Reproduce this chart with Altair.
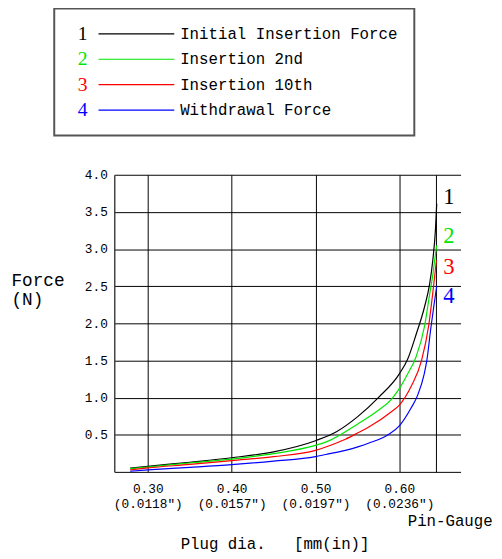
import altair as alt
import pandas as pd

# ---------------- data ----------------
series = ["Initial Insertion Force", "Insertion 2nd", "Insertion 10th", "Withdrawal Force"]
series_nums = ["1", "2", "3", "4"]
colors = ["#000000", "#00e600", "#ff0000", "#0000ff"]

black_mm = [0.279, 0.30, 0.35, 0.40, 0.45, 0.50, 0.525, 0.55, 0.575, 0.60, 0.61, 0.62, 0.63, 0.636, 0.640, 0.643, 0.6446]
black_n = [0.05, 0.075, 0.13, 0.19, 0.27, 0.42, 0.54, 0.74, 1.0, 1.32, 1.52, 1.85, 2.22, 2.52, 2.86, 3.25, 3.61]

green_mm = [0.279, 0.30, 0.35, 0.40, 0.45, 0.50, 0.5122, 0.5514, 0.575, 0.59, 0.60, 0.61, 0.62, 0.63, 0.636, 0.640, 0.6427, 0.6446]
green_n = [0.044, 0.066, 0.12, 0.172, 0.245, 0.357, 0.40, 0.653, 0.83, 0.97, 1.12, 1.32, 1.55, 1.96, 2.38, 2.66, 2.90, 3.05]

red_mm = [0.279, 0.30, 0.35, 0.40, 0.45, 0.50, 0.5122, 0.5357, 0.5514, 0.5631, 0.5905, 0.60, 0.614, 0.6265, 0.635, 0.640, 0.6443]
red_n = [0.026, 0.053, 0.10, 0.152, 0.205, 0.29, 0.335, 0.44, 0.53, 0.60, 0.81, 0.90, 1.15, 1.5, 1.97, 2.42, 2.85]

blue_mm = [0.279, 0.30, 0.35, 0.40, 0.45, 0.50, 0.5122, 0.5357, 0.5514, 0.5631, 0.5866, 0.60, 0.614, 0.6218, 0.6297, 0.6328, 0.6375, 0.641, 0.6446]
blue_n = [0.009, 0.026, 0.06, 0.097, 0.145, 0.205, 0.234, 0.29, 0.34, 0.385, 0.50, 0.62, 0.86, 1.03, 1.32, 1.5, 1.93, 2.22, 2.50]

label_force = [3.70, 3.17, 2.76, 2.36]   # where the 1..4 tags sit at the right
pin_gauge = 0.644

x_ticks = [0.30, 0.40, 0.50, 0.60]
x_tick_mm = ["0.30", "0.40", "0.50", "0.60"]
x_tick_in = ["(0.0118″)", "(0.0157″)", "(0.0197″)", "(0.0236″)"]
y_ticks = [0.5, 1.0, 1.5, 2.0, 2.5, 3.0, 3.5, 4.0]

x_title = "Plug dia.\u00a0\u00a0\u00a0[mm(in)]"
y_title = ["Force", "(N)"]
pin_text = "Pin-Gauge"

MONO = "Liberation Mono"
SERIF = "Liberation Serif"

# ---------------- tables ----------------
rows = []
for name, mm, nn in zip(series, [black_mm, green_mm, red_mm, blue_mm], [black_n, green_n, red_n, blue_n]):
    for a, b in zip(mm, nn):
        rows.append({"series": name, "mm": a, "force": b})
df = pd.DataFrame(rows)

df_lab = pd.DataFrame({"series": series, "num": series_nums, "force": label_force,
                       "mm": [pin_gauge] * len(series)})
df_pin = pd.DataFrame({"mm": [pin_gauge], "force": [0.0], "t": [pin_text]})
df_leg = pd.DataFrame({"series": series, "num": series_nums})
df_box = pd.DataFrame({"k": [0]})

expr = ""
for v, a, b in zip(x_ticks, x_tick_mm, x_tick_in):
    expr += f"abs(datum.value - {v}) < 0.001 ? ['{a}', '{b}'] : "
expr += "''"

color_scale = alt.Scale(domain=series, range=colors)

x_enc = alt.X("mm:Q",
              scale=alt.Scale(domain=[0.26, 0.673], nice=False, zero=False),
              axis=alt.Axis(values=x_ticks + [pin_gauge], labelExpr=expr, labelFont=MONO,
                            labelFontSize=13, labelLineHeight=15, labelPadding=11,
                            labelColor="#000", labelFlush=False, labelOverlap=False,
                            ticks=False, grid=True, gridColor="#000", gridWidth=1,
                            domainColor="#000", domainWidth=1,
                            title=x_title, titleFont=MONO, titleFontSize=16,
                            titleFontWeight="normal", titleColor="#000",
                            titleX=67, titleY=78, titleAlign="left",
                            titleBaseline="alphabetic"))
y_enc = alt.Y("force:Q",
              scale=alt.Scale(domain=[0, 4], nice=False),
              axis=alt.Axis(values=y_ticks, format=".1f", labelFont=MONO, labelFontSize=13,
                            labelColor="#000", labelPadding=7, ticks=False, grid=True,
                            gridColor="#000", gridWidth=1, domainColor="#444", domainWidth=1.5,
                            title=y_title, titleFont=MONO, titleFontSize=18,
                            titleFontWeight="normal", titleColor="#000", titleAngle=0,
                            titleAlign="left", titleBaseline="top", titleX=-105, titleY=99,
                            titleLineHeight=19))

lines = alt.Chart(df).mark_line(strokeWidth=1.2, interpolate="monotone").encode(
    x=x_enc, y=y_enc,
    color=alt.Color("series:N", scale=color_scale, legend=None),
    order=alt.Order("mm:Q"),
)

tags = alt.Chart(df_lab).mark_text(font=SERIF, fontSize=23, dx=13, align="center",
                                   baseline="middle").encode(
    x="mm:Q", y="force:Q", text="num:N",
    color=alt.Color("series:N", scale=color_scale, legend=None),
)

pin = alt.Chart(df_pin).mark_text(font=MONO, fontSize=16, dx=-29, dy=55, align="left",
                                  baseline="alphabetic", color="#000").encode(
    x="mm:Q", y="force:Q", text="t:N"
)

main = alt.layer(lines, tags, pin).properties(width=352, height=302)

# ---------------- legend box (its view shares the plot's left edge) ----------------
leg_y = alt.Y("series:N", sort=series, title=None,
              scale=alt.Scale(type="point", padding=1), axis=None)

box = alt.Chart(df_box).mark_rect(fill="transparent", stroke="#555", strokeWidth=2).encode(
    x=alt.value(-61), x2=alt.value(305), y=alt.value(0), y2=alt.value(129)
)
leg_num = alt.Chart(df_leg).mark_text(font=SERIF, fontSize=20, align="center",
                                      baseline="middle").encode(
    y=leg_y, x=alt.value(-32), text="num:N",
    color=alt.Color("series:N", scale=color_scale, legend=None),
)
leg_line = alt.Chart(df_leg).mark_rule(strokeWidth=1.2).encode(
    y=leg_y, x=alt.value(-16), x2=alt.value(61),
    color=alt.Color("series:N", scale=color_scale, legend=None),
)
leg_txt = alt.Chart(df_leg).mark_text(font=MONO, fontSize=16, align="left",
                                      baseline="middle", color="#000").encode(
    y=leg_y, x=alt.value(67), text="series:N",
)

legend_box = alt.layer(box, leg_num, leg_line, leg_txt).properties(width=305, height=129)

chart = alt.vconcat(legend_box, main, spacing=31).properties(
    padding={"left": 2, "top": -6, "right": 0, "bottom": 0}
).configure_view(stroke="transparent")

chart.save("out.html", embed_options={"renderer": "svg", "actions": False})
